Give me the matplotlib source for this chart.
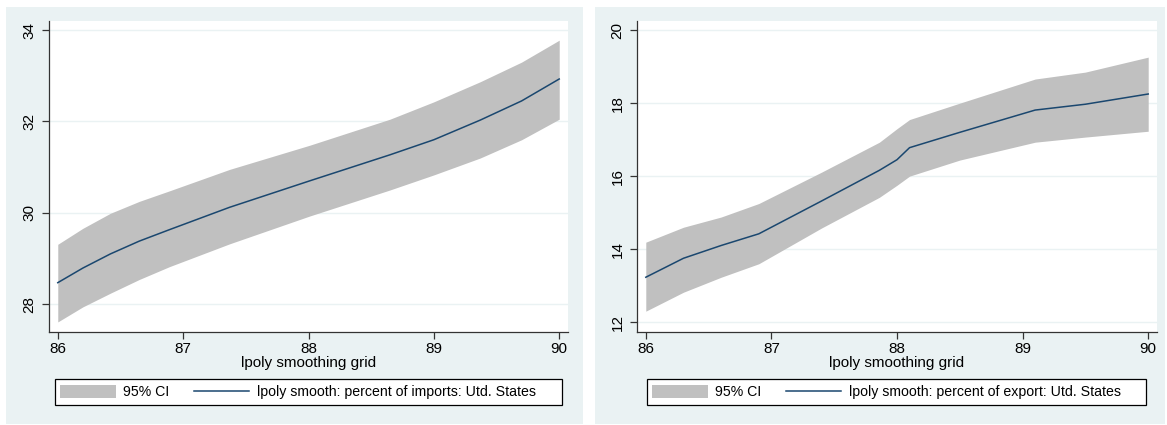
#!/usr/bin/env python3
"""
Two lpoly smooth panels (imports / exports share: Utd. States) with 95% CI bands.
"""
import matplotlib
matplotlib.use("Agg")
import matplotlib.pyplot as plt
from matplotlib.patches import Rectangle, Patch
from matplotlib.lines import Line2D

# --- data ---
imp_grid = [86.0, 86.2, 86.42, 86.65, 86.89, 87.37, 88.01, 88.65, 89.0, 89.37, 89.7, 90.0]
imp_smooth = [28.47, 28.79, 29.10, 29.38, 29.63, 30.12, 30.70, 31.27, 31.60, 32.03, 32.45, 32.93]
imp_lo = [27.61, 27.94, 28.24, 28.54, 28.82, 29.32, 29.93, 30.50, 30.83, 31.20, 31.60, 32.05]
imp_hi = [29.31, 29.66, 29.99, 30.25, 30.48, 30.95, 31.48, 32.05, 32.43, 32.87, 33.30, 33.78]

exp_grid = [86.0, 86.3, 86.6, 86.9, 87.4, 87.86, 88.0, 88.1, 88.5, 89.1, 89.5, 90.0]
exp_smooth = [13.23, 13.75, 14.10, 14.42, 15.32, 16.16, 16.45, 16.78, 17.20, 17.81, 17.97, 18.25]
exp_lo = [12.30, 12.82, 13.23, 13.60, 14.58, 15.42, 15.75, 16.00, 16.44, 16.93, 17.07, 17.23]
exp_hi = [14.19, 14.60, 14.88, 15.25, 16.11, 16.93, 17.30, 17.55, 18.00, 18.66, 18.85, 19.26]

x_ticks = [86, 87, 88, 89, 90]
imp_yticks = [28, 30, 32, 34]
exp_yticks = [12, 14, 16, 18, 20]

ci_label = "95% CI"
imp_label = "lpoly smooth: percent of imports: Utd. States"
exp_label = "lpoly smooth: percent of export: Utd. States"
x_title = "lpoly smoothing grid"

BG = "#EAF2F3"
CI_COLOR = "#C0C0C0"
LINE_COLOR = "#1A476F"

plt.rcParams["font.family"] = ["Liberation Sans", "DejaVu Sans"]

W, H = 1167, 425
fig = plt.figure(figsize=(W / 100, H / 100), dpi=100)
fig.patch.set_facecolor("white")

# panel backgrounds (behind the axes)
for x0, x1 in [(6, 583), (595, 1165)]:
    fig.patches.append(Rectangle((x0 / W, 1 - 424 / H), (x1 - x0) / W, (424 - 7) / H,
                                 transform=fig.transFigure, facecolor=BG,
                                 edgecolor="none", zorder=-10))


def panel(left_px, right_px, grid, smooth, lo, hi, yticks, ylim, label, leg_box):
    ax = fig.add_axes([left_px / W, 1 - 332 / H, (right_px - left_px) / W, 311 / H])
    ax.set_facecolor("white")
    ax.fill_between(grid, lo, hi, color=CI_COLOR, linewidth=0, zorder=2)
    ax.plot(grid, smooth, color=LINE_COLOR, linewidth=1.1, zorder=3)
    ax.set_xlim(85.93, 90.07)
    ax.set_ylim(*ylim)
    ax.set_xticks(x_ticks)
    ax.set_yticks(yticks)
    ax.set_yticklabels([str(t) for t in yticks], rotation=90, va="center")
    ax.yaxis.grid(True, color=BG, linewidth=1.0, zorder=1)
    ax.set_axisbelow(True)
    for s in ["top", "right"]:
        ax.spines[s].set_visible(False)
    for s in ["left", "bottom"]:
        ax.spines[s].set_color("#333333")
        ax.spines[s].set_linewidth(0.9)
    ax.tick_params(direction="out", length=5, width=0.9, color="#333333",
                   labelcolor="black", labelsize=11)
    ax.tick_params(axis="x", pad=2)
    ax.tick_params(axis="y", pad=4)
    ax.set_xlabel(x_title, fontsize=11, labelpad=0)

    # legend: white box drawn separately, entries placed inside it
    bx0, bx1, by0, by1 = leg_box
    fig.patches.append(Rectangle((bx0 / W, 1 - by1 / H), (bx1 - bx0) / W, (by1 - by0) / H,
                                 transform=fig.transFigure, facecolor="white",
                                 edgecolor="black", linewidth=0.9, zorder=-5))
    handles = [Patch(facecolor=CI_COLOR, edgecolor="none"),
               Line2D([0], [0], color=LINE_COLOR, linewidth=1.1)]
    ax.legend(handles, [ci_label, label], ncol=2, loc="center left",
              bbox_to_anchor=((bx0 + 1) / W, 1 - (by0 + by1) / 2 / H),
              bbox_transform=fig.transFigure, frameon=False,
              handlelength=3.9, handleheight=1.1, handletextpad=0.55,
              columnspacing=1.7, borderpad=0.3, borderaxespad=0,
              fontsize=10.2)
    return ax


panel(49, 568, imp_grid, imp_smooth, imp_lo, imp_hi, imp_yticks, (27.39, 34.2),
      imp_label, (55, 562, 379, 405))
panel(637, 1157, exp_grid, exp_smooth, exp_lo, exp_hi, exp_yticks, (11.73, 20.25),
      exp_label, (647, 1146, 379, 405))

fig.savefig("out.png", dpi=100, facecolor=fig.get_facecolor())
